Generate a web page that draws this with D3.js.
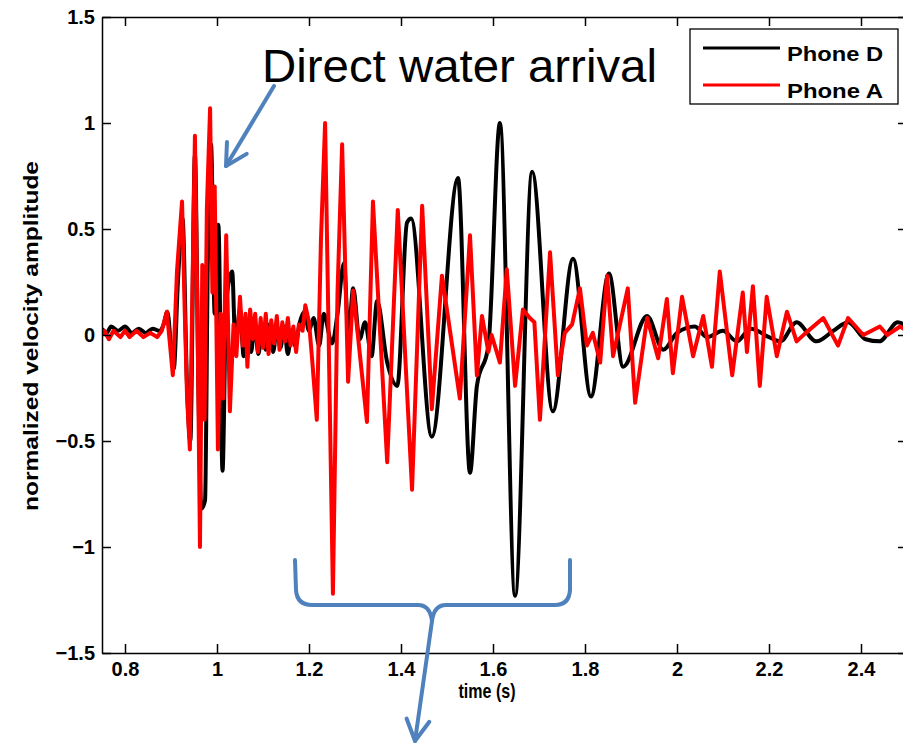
<!DOCTYPE html>
<html>
<head>
<meta charset="utf-8">
<script src="https://cdn.jsdelivr.net/npm/d3@7"></script>
<style>
  html, body { margin: 0; padding: 0; background: #fff; overflow: hidden; }
  svg { display: block; }
  text { font-family: "Liberation Sans", Arial, sans-serif; }
</style>
</head>
<body>
<svg width="903" height="745"></svg>
<script>
// values (time in s, normalized amplitude)
const timeD = [0.75, 0.76, 0.77, 0.785, 0.80, 0.815, 0.83, 0.845, 0.86, 0.875, 0.884, 0.892, 0.90, 0.906, 0.915, 0.925, 0.935, 0.942, 0.952, 0.96, 0.966, 0.974, 0.98, 0.987, 0.995, 1.003, 1.012, 1.02, 1.033, 1.04, 1.05, 1.058, 1.066, 1.074, 1.082, 1.09, 1.098, 1.106, 1.114, 1.122, 1.13, 1.138, 1.146, 1.154, 1.162, 1.17, 1.18, 1.19, 1.2, 1.21, 1.222, 1.232, 1.25, 1.262, 1.276, 1.286, 1.296, 1.31, 1.322, 1.336, 1.348, 1.37, 1.392, 1.413, 1.422, 1.467, 1.524, 1.55, 1.565, 1.59, 1.615, 1.648, 1.685, 1.73, 1.774, 1.813, 1.852, 1.883, 1.935, 1.97, 2.0, 2.039, 2.065, 2.1, 2.13, 2.16, 2.2, 2.225, 2.26, 2.303, 2.34, 2.372, 2.41, 2.44, 2.48, 2.5];
const ampD = [0.03, 0.01, 0.04, 0.02, 0.04, 0.01, 0.03, 0.01, 0.03, 0.02, 0.05, 0.11, -0.05, -0.16, 0.25, 0.55, -0.25, -0.50, 0.85, -0.3, -0.82, -0.78, 0.35, 0.90, 0.1, 0.52, -0.64, 0.15, 0.30, -0.05, 0.12, -0.1, 0.04, -0.08, 0.05, -0.09, 0.03, -0.07, 0.05, -0.08, 0.03, -0.06, 0.04, -0.09, 0.02, -0.05, 0.06, 0.11, 0.02, 0.08, -0.05, 0.10, -0.04, 0.10, 0.34, 0.0, 0.22, -0.02, 0.06, -0.10, 0.16, -0.13, -0.24, 0.53, 0.55, -0.48, 0.74, -0.65, -0.24, -0.05, 1.00, -1.23, 0.77, -0.36, 0.36, -0.29, 0.29, -0.15, 0.09, -0.07, 0.01, 0.04, -0.01, 0.02, -0.03, 0.03, -0.01, -0.03, 0.06, -0.03, 0.02, 0.06, -0.02, -0.03, 0.06, 0.04];

const timeA = [0.75, 0.755, 0.765, 0.775, 0.79, 0.80, 0.81, 0.825, 0.84, 0.855, 0.87, 0.88, 0.891, 0.898, 0.904, 0.913, 0.924, 0.93, 0.935, 0.941, 0.952, 0.958, 0.963, 0.968, 0.973, 0.978, 0.985, 0.99, 0.995, 1.002, 1.008, 1.013, 1.02, 1.028, 1.036, 1.042, 1.05, 1.056, 1.062, 1.066, 1.072, 1.078, 1.083, 1.089, 1.095, 1.100, 1.106, 1.112, 1.118, 1.124, 1.130, 1.136, 1.142, 1.148, 1.154, 1.160, 1.166, 1.172, 1.178, 1.186, 1.192, 1.200, 1.207, 1.217, 1.226, 1.235, 1.252, 1.262, 1.272, 1.285, 1.296, 1.326, 1.339, 1.37, 1.393, 1.424, 1.446, 1.467, 1.489, 1.528, 1.55, 1.565, 1.576, 1.59, 1.597, 1.615, 1.63, 1.648, 1.665, 1.68, 1.69, 1.702, 1.724, 1.741, 1.756, 1.772, 1.789, 1.804, 1.817, 1.833, 1.848, 1.861, 1.893, 1.909, 1.935, 1.959, 1.978, 1.991, 2.011, 2.035, 2.057, 2.076, 2.093, 2.12, 2.143, 2.152, 2.165, 2.18, 2.195, 2.217, 2.239, 2.26, 2.28, 2.318, 2.35, 2.372, 2.405, 2.441, 2.457, 2.485, 2.5];
const ampA = [0.00, 0.02, -0.02, 0.02, -0.01, 0.02, -0.01, 0.02, -0.01, 0.01, -0.01, 0.02, 0.11, -0.05, -0.19, 0.30, 0.63, 0.1, -0.30, -0.54, 0.94, 0.01, -1.00, 0.33, -0.4, 0.6, 1.07, 0.2, 0.7, -0.54, 0.1, -0.3, 0.47, -0.36, 0.05, -0.1, 0.18, -0.05, 0.1, -0.15, 0.12, -0.02, 0.10, -0.08, 0.08, -0.06, 0.10, -0.09, 0.07, -0.04, 0.09, -0.07, 0.06, -0.03, 0.08, -0.05, 0.04, -0.08, 0.05, 0.02, 0.14, 0.06, -0.12, -0.40, 0.45, 1.00, -1.22, 0.2, 0.90, -0.22, 0.21, -0.41, 0.63, -0.60, 0.59, -0.73, 0.61, -0.35, 0.28, -0.30, 0.47, -0.19, 0.09, -0.08, 0.0, -0.13, 0.31, -0.24, 0.12, 0.08, 0.06, -0.40, 0.39, -0.19, 0.01, 0.05, 0.22, -0.05, 0.01, -0.13, 0.28, -0.10, 0.22, -0.32, 0.08, -0.11, 0.17, -0.18, 0.18, -0.10, 0.09, -0.15, 0.30, -0.19, 0.20, -0.08, 0.23, -0.24, 0.18, -0.10, 0.11, -0.03, 0.01, 0.08, -0.05, 0.08, 0.0, 0.04, 0.0, 0.04, 0.02];

const xTicks = [0.8, 1, 1.2, 1.4, 1.6, 1.8, 2, 2.2, 2.4];
const yTicks = [-1.5, -1, -0.5, 0, 0.5, 1, 1.5];
const seriesNames = ["Phone D", "Phone A"];
const seriesColors = ["#000000", "#ff0000"];

const svg = d3.select("svg");
const plot = { left: 102, right: 907, top: 17, bottom: 653 };

const x = d3.scaleLinear().domain([0.75, 2.5]).range([plot.left, plot.right]);
const y = d3.scaleLinear().domain([-1.5, 1.5]).range([plot.bottom, plot.top]);

svg.append("defs").append("clipPath").attr("id", "clip")
    .append("rect")
    .attr("x", plot.left).attr("y", plot.top)
    .attr("width", plot.right - plot.left).attr("height", plot.bottom - plot.top);

// traces, Phone D under Phone A
const traces = [
    { data: d3.zip(timeD, ampD), curve: d3.curveMonotoneX },
    { data: d3.zip(timeA, ampA), curve: d3.curveLinear }
];
const lineGroup = svg.append("g").attr("clip-path", "url(#clip)");
traces.forEach((t, i) => {
    lineGroup.append("path")
        .datum(t.data)
        .attr("fill", "none")
        .attr("stroke", seriesColors[i])
        .attr("stroke-width", 4)
        .attr("stroke-linejoin", "round")
        .attr("d", d3.line().x(d => x(d[0])).y(d => y(d[1])).curve(t.curve));
});

// axes box with inward ticks on all four sides
function styleAxis(g) {
    g.select(".domain").attr("stroke", "#000").attr("stroke-width", 1.5);
    g.selectAll(".tick line").attr("stroke", "#000").attr("stroke-width", 1.5);
    g.selectAll(".tick text")
        .attr("fill", "#000")
        .attr("font-size", 20)
        .attr("font-weight", "bold")
        .attr("font-family", "Liberation Sans, Arial, sans-serif");
}

svg.append("g")
    .attr("transform", `translate(0,${plot.bottom})`)
    .call(d3.axisBottom(x).tickValues(xTicks).tickSize(-9).tickSizeOuter(0).tickPadding(9).tickFormat(d3.format("")))
    .call(styleAxis);
svg.append("g")
    .attr("transform", `translate(0,${plot.top})`)
    .call(d3.axisTop(x).tickValues(xTicks).tickSize(-9).tickSizeOuter(0).tickFormat(""))
    .call(styleAxis);
svg.append("g")
    .attr("transform", `translate(${plot.left},0)`)
    .call(d3.axisLeft(y).tickValues(yTicks).tickSize(-9).tickSizeOuter(0).tickPadding(7).tickFormat(d3.format("")))
    .call(styleAxis);
svg.append("g")
    .attr("transform", `translate(${plot.right},0)`)
    .call(d3.axisRight(y).tickValues(yTicks).tickSize(-9).tickSizeOuter(0).tickFormat(""))
    .call(styleAxis);

// axis labels
svg.append("text")
    .attr("x", 487).attr("y", 698)
    .attr("text-anchor", "middle")
    .attr("font-size", 21).attr("font-weight", "bold")
    .attr("textLength", 57).attr("lengthAdjust", "spacingAndGlyphs")
    .text("time (s)");
svg.append("text")
    .attr("transform", "translate(38,336) rotate(-90)")
    .attr("text-anchor", "middle")
    .attr("font-size", 20).attr("font-weight", "bold")
    .attr("textLength", 350).attr("lengthAdjust", "spacingAndGlyphs")
    .text("normalized velocity amplitude");

// legend
const legend = svg.append("g");
legend.append("rect")
    .attr("x", 690).attr("y", 29).attr("width", 208).attr("height", 75)
    .attr("fill", "#fff").attr("stroke", "#000").attr("stroke-width", 1.3);
const legendRows = [48, 85];
seriesNames.forEach((name, i) => {
    legend.append("line")
        .attr("x1", 703).attr("x2", 780)
        .attr("y1", legendRows[i]).attr("y2", legendRows[i])
        .attr("stroke", seriesColors[i]).attr("stroke-width", 3);
    legend.append("text")
        .attr("x", 787).attr("y", legendRows[i] + 13)
        .attr("font-size", 20).attr("font-weight", "bold")
        .attr("textLength", 96).attr("lengthAdjust", "spacingAndGlyphs")
        .text(name);
});

// annotations
const blue = "#4f81bd";
svg.append("text")
    .attr("x", 262).attr("y", 82)
    .attr("font-size", 46)
    .attr("textLength", 395).attr("lengthAdjust", "spacingAndGlyphs")
    .text("Direct water arrival");

function arrow(x1, y1, x2, y2) {
    const a = Math.atan2(y2 - y1, x2 - x1);
    const len = 24, spread = 0.5;
    svg.append("line")
        .attr("x1", x1).attr("y1", y1).attr("x2", x2).attr("y2", y2)
        .attr("stroke", blue).attr("stroke-width", 4).attr("stroke-linecap", "round");
    svg.append("path")
        .attr("d", `M${x2 - len * Math.cos(a - spread)},${y2 - len * Math.sin(a - spread)}L${x2},${y2}L${x2 - len * Math.cos(a + spread)},${y2 - len * Math.sin(a + spread)}`)
        .attr("fill", "none").attr("stroke", blue).attr("stroke-width", 4)
        .attr("stroke-linecap", "round").attr("stroke-linejoin", "round");
}
arrow(274, 86, 226, 166);

svg.append("path")
    .attr("d", "M295,560 L296,590 Q297,605 312,605 L418,605 Q430,605 432,621 Q434,605 446,605 L555,605 Q569,605 570,590 L570,560")
    .attr("fill", "none").attr("stroke", blue).attr("stroke-width", 4)
    .attr("stroke-linecap", "round").attr("stroke-linejoin", "round");
arrow(432, 621, 415, 741);
</script>
</body>
</html>
